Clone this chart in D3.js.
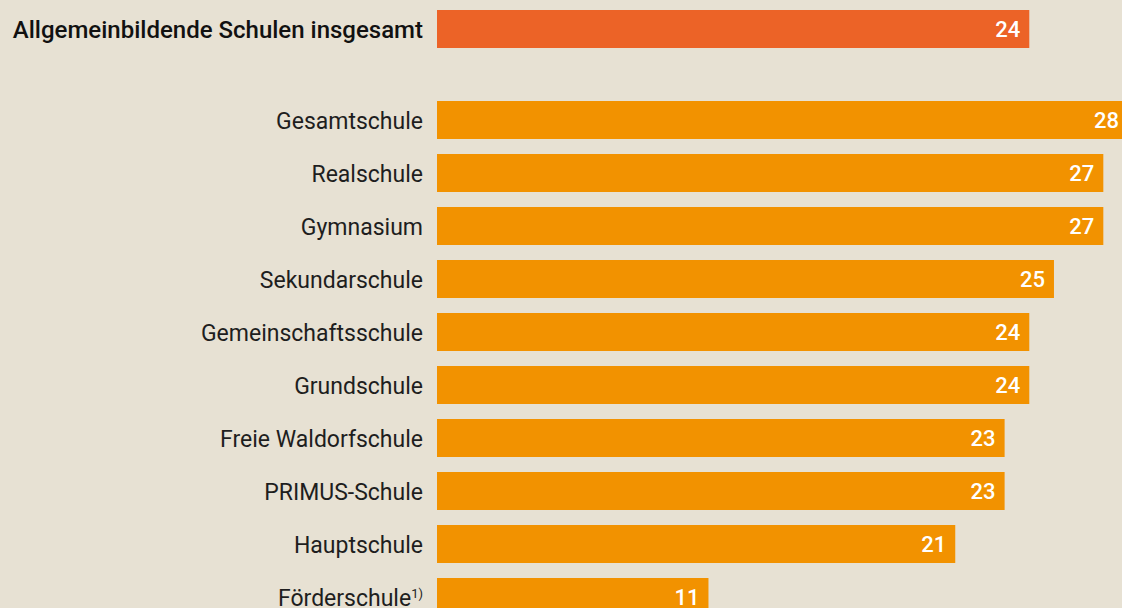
<!DOCTYPE html>
<html>
<head>
<meta charset="utf-8">
<script src="https://cdn.jsdelivr.net/npm/d3@7"></script>
<style>
  html, body { margin: 0; padding: 0; background: #e7e1d3; overflow: hidden; }
  svg { display: block; font-family: "Roboto", "Liberation Sans", sans-serif; }
</style>
</head>
<body>
<script>
// data
const totalLabel = 'Allgemeinbildende Schulen insgesamt';
const totalValue = 24;

const schoolTypes = [
    'Gesamtschule',
    'Realschule',
    'Gymnasium',
    'Sekundarschule',
    'Gemeinschaftsschule',
    'Grundschule',
    'Freie Waldorfschule',
    'PRIMUS-Schule',
    'Hauptschule',
    'Förderschule'
];
const schoolValues = [28, 27, 27, 25, 24, 24, 23, 23, 21, 11];
const footnotes = { 'Förderschule': '1)' };

const SCREEN = { width: 1122, height: 608, barLeft: 437, barRight: 1128 };

const svg = d3.select('body').append('svg')
    .attr('width', SCREEN.width)
    .attr('height', SCREEN.height);

svg.append('rect')
    .attr('width', SCREEN.width)
    .attr('height', SCREEN.height)
    .attr('fill', '#e7e1d3');

const x = d3.scaleLinear()
    .domain([0, 28])
    .range([SCREEN.barLeft, SCREEN.barRight]);

// total bar on its own band, the school types below
const yTotal = d3.scaleBand()
    .domain([totalLabel])
    .range([10, 48]);

const y = d3.scaleBand()
    .domain(schoolTypes)
    .range([101, 616])
    .paddingInner(15 / 53)
    .paddingOuter(0);

const rows = schoolTypes.map((name, i) => ({ name, value: schoolValues[i] }));

// total
const totalG = svg.append('g');
totalG.append('rect')
    .attr('x', x(0))
    .attr('y', yTotal(totalLabel))
    .attr('width', x(totalValue) - x(0))
    .attr('height', yTotal.bandwidth())
    .attr('fill', '#ec6327');
totalG.append('text')
    .attr('x', x(0) - 14)
    .attr('y', yTotal(totalLabel) + yTotal.bandwidth() / 2)
    .attr('dy', '0.38em')
    .attr('text-anchor', 'end')
    .attr('font-size', 24)
    .attr('font-weight', 500)
    .attr('fill', '#111111')
    .text(totalLabel);
totalG.append('text')
    .attr('x', x(totalValue) - 9)
    .attr('y', yTotal(totalLabel) + yTotal.bandwidth() / 2)
    .attr('dy', '0.38em')
    .attr('text-anchor', 'end')
    .attr('font-size', 22)
    .attr('font-weight', 500)
    .attr('fill', '#ffffff')
    .text(totalValue);

// school types
const rowG = svg.append('g').selectAll('g')
    .data(rows)
    .join('g');

rowG.append('rect')
    .attr('x', x(0))
    .attr('y', d => y(d.name))
    .attr('width', d => x(d.value) - x(0))
    .attr('height', y.bandwidth())
    .attr('fill', '#f29200');

const labels = rowG.append('text')
    .attr('x', x(0) - 14)
    .attr('y', d => y(d.name) + y.bandwidth() / 2)
    .attr('dy', '0.4em')
    .attr('text-anchor', 'end')
    .attr('font-size', 23)
    .attr('fill', '#1e1e1e');
labels.append('tspan').text(d => d.name);
labels.filter(d => footnotes[d.name])
    .append('tspan')
    .attr('font-size', 13)
    .attr('dy', '-0.6em')
    .text(d => footnotes[d.name]);

rowG.append('text')
    .attr('x', d => x(d.value) - 9)
    .attr('y', d => y(d.name) + y.bandwidth() / 2)
    .attr('dy', '0.38em')
    .attr('text-anchor', 'end')
    .attr('font-size', 22)
    .attr('font-weight', 500)
    .attr('fill', '#ffffff')
    .text(d => d.value);
</script>
</body>
</html>
